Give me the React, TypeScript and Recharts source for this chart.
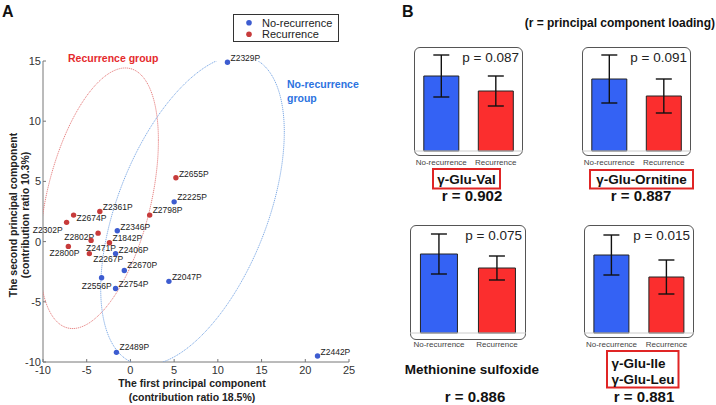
import React from 'react';
import { ScatterChart, Scatter, XAxis, YAxis, BarChart, Bar, ErrorBar, Cell } from 'recharts';

const FONT = '"Liberation Sans", Arial, sans-serif';
const BLUE = '#3d5cd0';
const RED = '#c73b3b';
const BAR_BLUE = '#3462f4';
const BAR_RED = '#fb2e2e';

// PCA scores, no-recurrence group
const noRecIds = ['Z2329P', 'Z2225P', 'Z2346P', 'Z2406P', 'Z2670P', 'Z2047P', 'Z2556P', 'Z2754P', 'Z2489P', 'Z2442P'];
const noRecPC1 = [11.1, 5.0, -1.5, -1.7, -0.7, 4.4, -3.3, -1.7, -1.6, 21.4];
const noRecPC2 = [14.9, 3.3, 0.9, -1.0, -2.4, -3.3, -3.0, -3.9, -9.2, -9.5];

// PCA scores, recurrence group
const recIds = ['Z2655P', 'Z2798P', 'Z2361P', 'Z2674P', 'Z2302P', 'Z2802P', 'Z2471P', 'Z1842P', 'Z2800P', 'Z2267P'];
const recPC1 = [5.2, 2.2, -3.5, -6.5, -7.3, -3.7, -4.5, -2.4, -7.1, -4.7];
const recPC2 = [5.3, 2.2, 2.5, 2.2, 1.6, 0.7, 0.1, -0.1, -0.4, -1.0];

const xTicks = [-10, -5, 0, 5, 10, 15, 20, 25];
const yTicks = [-10, -5, 0, 5, 10, 15];

// group ellipses: centre, x half-width, y shear and y half-height terms
const recEllipse = { cx: -3.6, cy: 3.6, w: 6.8, k: 4.8, m: 9.7 };
const noRecEllipse = { cx: 7.1, cy: 2.6, w: 10.5, k: 6.5, m: 11.1 };

// label offset from the point: dx, dy, anchor
const labelPlace: Record<string, [number, number, 'start' | 'end']> = {
  Z2329P: [3, -1, 'start'],
  Z2655P: [3, -1, 'start'],
  Z2225P: [3, -2, 'start'],
  Z2798P: [3, -2, 'start'],
  Z2361P: [3, -2, 'start'],
  Z2674P: [3, 6, 'start'],
  Z2302P: [-4, 11, 'end'],
  Z2346P: [3, -1, 'start'],
  Z2802P: [-4, 7, 'end'],
  Z1842P: [3, -2, 'start'],
  Z2471P: [-5, 11, 'start'],
  Z2406P: [3, -1, 'start'],
  Z2800P: [11, 10, 'end'],
  Z2267P: [4, 8, 'start'],
  Z2670P: [3, -2, 'start'],
  Z2047P: [3, -1, 'start'],
  Z2556P: [10, 11, 'end'],
  Z2754P: [3, -2, 'start'],
  Z2489P: [3, -2, 'start'],
  Z2442P: [3, -1, 'start'],
};

// panel B
const groups = ['No-recurrence', 'Recurrence'];
const meanNoRec = [75, 72, 79, 78];
const meanRec = [60, 55, 65, 56];
const sdNoRec = [21, 24, 20, 20];
const sdRec = [15, 17, 12, 17];
const pValues = ['0.087', '0.091', '0.075', '0.015'];
const loadings = ['0.902', '0.887', '0.886', '0.881'];

const panels = [
  { x: 414, y: 47, w: 109, h: 109, base: 151 },
  { x: 582, y: 47, w: 109, h: 109, base: 151 },
  { x: 410, y: 225, w: 116, h: 115, base: 333 },
  { x: 584, y: 225, w: 110, h: 113, base: 333 },
];

const noRecData = noRecIds.map((id, i) => ({ id, x: noRecPC1[i], y: noRecPC2[i] }));
const recData = recIds.map((id, i) => ({ id, x: recPC1[i], y: recPC2[i] }));

const ellipsePoints = (e: typeof recEllipse) => {
  const pts = [];
  for (let i = 0; i <= 160; i++) {
    const t = (i / 160) * Math.PI * 2;
    pts.push({ x: e.cx + e.w * Math.cos(t), y: e.cy + e.k * Math.cos(t) + e.m * Math.sin(t) });
  }
  return pts;
};

const makeDot = (color: string) => (props: any) => {
  const { cx, cy, payload } = props;
  const [dx, dy, anchor] = labelPlace[payload.id] || [3, -2, 'start'];
  return (
    <g>
      <circle cx={cx} cy={cy} r={2.7} fill={color} />
      <text x={cx + dx} y={cy + dy} textAnchor={anchor} fontSize={8.5} fill="#222" fontFamily={FONT}>
        {payload.id}
      </text>
    </g>
  );
};

const NoShape = () => <g />;

const axisTick = { fontSize: 11, fill: '#333', fontFamily: FONT };

const MiniBars = ({ idx }: { idx: number }) => {
  const p = panels[idx];
  const data = [
    { group: groups[0], mean: meanNoRec[idx], sd: sdNoRec[idx] },
    { group: groups[1], mean: meanRec[idx], sd: sdRec[idx] },
  ];
  return (
    <>
      <div
        style={{
          position: 'absolute', left: p.x, top: p.y, width: p.w, height: p.h,
          border: '1.3px solid #555', borderRadius: 6, boxSizing: 'border-box', background: '#fff',
        }}
      />
      <div style={{ position: 'absolute', left: p.x, top: p.base - 100 }}>
        <BarChart width={p.w} height={122} data={data} margin={{ top: 0, right: 0, bottom: 0, left: 0 }} barCategoryGap="18%">
          <XAxis
            dataKey="group"
            height={22}
            interval={0}
            tickLine={false}
            tickSize={0}
            tickMargin={8}
            axisLine={{ stroke: '#ccc' }}
            tick={{ fontSize: 8, fill: '#444', fontFamily: FONT }}
          />
          <YAxis hide domain={[0, 100]} />
          <Bar dataKey="mean" stroke="#222" strokeWidth={1} isAnimationActive={false}>
            <Cell fill={BAR_BLUE} />
            <Cell fill={BAR_RED} />
            <ErrorBar dataKey="sd" width={8} stroke="#111" strokeWidth={1.4} />
          </Bar>
        </BarChart>
      </div>
    </>
  );
};

export default function App() {
  return (
    <div style={{ position: 'absolute', left: 0, top: 0, width: 716, height: 405, background: '#fff', fontFamily: FONT }}>
      <div style={{ position: 'absolute', left: 0, top: 0 }}>
        <ScatterChart width={360} height={405} margin={{ top: 61, right: 11, bottom: 0, left: 0 }}>
          <XAxis
            type="number" dataKey="x" domain={[-10, 25]} ticks={xTicks} height={43}
            stroke="#777" tick={axisTick} tickSize={-3} tickMargin={7}
          />
          <YAxis
            type="number" dataKey="y" domain={[-10, 15]} ticks={yTicks} width={43}
            stroke="#777" tick={axisTick} tickSize={-3} tickMargin={5}
          />
          <XAxis xAxisId="e" type="number" dataKey="x" domain={[-10, 25]} hide allowDataOverflow />
          <YAxis yAxisId="e" type="number" dataKey="y" domain={[-10, 15]} hide allowDataOverflow />
          <Scatter
            xAxisId="e" yAxisId="e" data={ellipsePoints(recEllipse)} shape={NoShape}
            line={{ stroke: '#e37474', strokeWidth: 0.9, strokeDasharray: '1.2 0.8' }} isAnimationActive={false}
          />
          <Scatter
            xAxisId="e" yAxisId="e" data={ellipsePoints(noRecEllipse)} shape={NoShape}
            line={{ stroke: '#72a2e2', strokeWidth: 0.9, strokeDasharray: '1.2 0.8' }} isAnimationActive={false}
          />
          <Scatter data={recData} fill={RED} shape={makeDot(RED)} isAnimationActive={false} />
          <Scatter data={noRecData} fill={BLUE} shape={makeDot(BLUE)} isAnimationActive={false} />
        </ScatterChart>
      </div>

      {panels.map((_, i) => (
        <MiniBars key={i} idx={i} />
      ))}

      <svg width={716} height={405} style={{ position: 'absolute', left: 0, top: 0, pointerEvents: 'none' }} fontFamily={FONT}>
        <text x={2} y={17} fontSize={16} fontWeight="bold" fill="#111">A</text>
        <text x={402} y={17} fontSize={16} fontWeight="bold" fill="#111">B</text>

        {/* legend */}
        <rect x={233.5} y={14.5} width={105} height={27} fill="#fff" stroke="#333" strokeWidth={1} />
        <circle cx={249} cy={22.7} r={2.8} fill={BLUE} />
        <circle cx={249} cy={34.3} r={2.8} fill={RED} />
        <text x={262} y={26.5} fontSize={11} fill="#222">No-recurrence</text>
        <text x={262} y={38} fontSize={11} fill="#222">Recurrence</text>

        <text x={68} y={62} fontSize={10.5} fontWeight="bold" fill="#e52a2d">Recurrence group</text>
        <text x={287} y={88} fontSize={10.5} fontWeight="bold" fill="#2c73e0">No-recurrence</text>
        <text x={287} y={101.5} fontSize={10.5} fontWeight="bold" fill="#2c73e0">group</text>

        <text x={192} y={387} textAnchor="middle" fontSize={10.5} fontWeight="bold" fill="#222">The first principal component</text>
        <text x={192} y={401} textAnchor="middle" fontSize={10.5} fontWeight="bold" fill="#222">(contribution ratio 18.5%)</text>
        <text transform="translate(16.5,215) rotate(-90)" textAnchor="middle" fontSize={10.5} fontWeight="bold" fill="#222">
          The second principal component
        </text>
        <text transform="translate(29,215) rotate(-90)" textAnchor="middle" fontSize={10.5} fontWeight="bold" fill="#222">
          (contribution ratio 10.3%)
        </text>

        <text x={715} y={27} textAnchor="end" fontSize={12} fontWeight="bold" fill="#111">(r = principal component loading)</text>

        {panels.map((p, i) => (
          <text key={'p' + i} x={p.x + p.w - 4} y={p.y + 15} textAnchor="end" fontSize={13.5} fill="#222">
            p = {pValues[i]}
          </text>
        ))}

        <rect x={433} y={169} width={67} height={19.5} fill="none" stroke="#e02525" strokeWidth={2} />
        <text x={466.5} y={183.5} textAnchor="middle" fontSize={13.5} fontWeight="bold" fill="#111">γ-Glu-Val</text>
        <text x={472} y={201} textAnchor="middle" fontSize={15} fontWeight="bold" fill="#111">r = {loadings[0]}</text>

        <rect x={590} y={170} width={103} height={18.5} fill="none" stroke="#e02525" strokeWidth={2} />
        <text x={641.5} y={184} textAnchor="middle" fontSize={13.5} fontWeight="bold" fill="#111">γ-Glu-Ornitine</text>
        <text x={641} y={201} textAnchor="middle" fontSize={15} fontWeight="bold" fill="#111">r = {loadings[1]}</text>

        <text x={472} y={374} textAnchor="middle" fontSize={13.5} fontWeight="bold" fill="#111">Methionine sulfoxide</text>
        <text x={475} y={402} textAnchor="middle" fontSize={15} fontWeight="bold" fill="#111">r = {loadings[2]}</text>

        <rect x={607} y={351} width={71.5} height={36.5} fill="none" stroke="#e02525" strokeWidth={2} />
        <text x={611.5} y={368} fontSize={13.5} fontWeight="bold" fill="#111">γ-Glu-Ile</text>
        <text x={611.5} y={384} fontSize={13.5} fontWeight="bold" fill="#111">γ-Glu-Leu</text>
        <text x={644} y={402} textAnchor="middle" fontSize={15} fontWeight="bold" fill="#111">r = {loadings[3]}</text>
      </svg>
    </div>
  );
}
